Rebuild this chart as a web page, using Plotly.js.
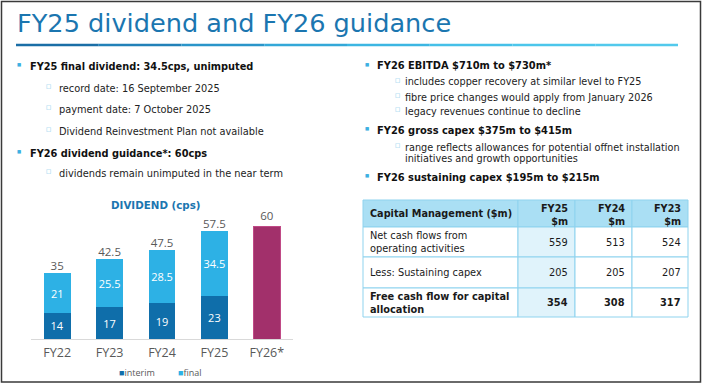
<!DOCTYPE html>
<html><head><meta charset="utf-8">
<script src="https://cdn.plot.ly/plotly-3.0.1.min.js"></script>
<style>html,body{margin:0;padding:0;background:#fff}#chart{width:703px;height:386px}</style>
</head><body><div id="chart"></div>
<script>
// ---- data ----
const categories = ['FY22','FY23','FY24','FY25','FY26*'];
const interim = [14, 17, 19, 23, null];
const finalDiv = [21, 25.5, 28.5, 34.5, null];
const totals = [35, 42.5, 47.5, 57.5];
const guidance = [null, null, null, null, 60];
const legendNames = ['interim', 'final'];

const tableHeader = ['Capital Management ($m)', 'FY25<br>$m', 'FY24<br>$m', 'FY23<br>$m'];
const rowLabels = ['Net cash flows from<br>operating activities', 'Less: Sustaining capex', 'Free cash flow for capital<br>allocation'];
const fy25 = [559, 205, 354];
const fy24 = [513, 205, 308];
const fy23 = [524, 207, 317];

const pageTitle = 'FY25 dividend and FY26 guidance';
const chartTitle = 'DIVIDEND (cps)';
const leftText = [
  ['b', 'FY25 final dividend: 34.5cps, unimputed'],
  ['s', 'record date: 16 September 2025'],
  ['s', 'payment date: 7 October 2025'],
  ['s', 'Dividend Reinvestment Plan not available'],
  ['b', 'FY26 dividend guidance*: 60cps'],
  ['s', 'dividends remain unimputed in the near term']
];
const rightText = [
  ['b', 'FY26 EBITDA $710m to $730m*'],
  ['s', 'includes copper recovery at similar level to FY25'],
  ['s', 'fibre price changes would apply from January 2026'],
  ['s', 'legacy revenues continue to decline'],
  ['b', 'FY26 gross capex $375m to $415m'],
  ['s', 'range reflects allowances for potential offnet installation'],
  ['c', 'initiatives and growth opportunities'],
  ['b', 'FY26 sustaining capex $195m to $215m']
];

// ---- helpers (pixel -> paper) ----
const W = 703, H = 386;
const X = p => p / W;
const Y = p => 1 - p / H;
const FONT = 'DejaVu Sans, Verdana, sans-serif';
const CFONT = 'Open Sans, Noto Sans, sans-serif';
const C_INT = '#0f6eaa', C_FIN = '#2db1e5', C_G = '#a2306b', C_T = '#1b76b0', C_GREY = '#595959';

const traces = [
  {type:'bar', x:categories, y:interim, name:'interim', marker:{color:C_INT},
   text:interim.map(v=>v==null?'':String(v)), textposition:'inside', insidetextanchor:'middle', textangle:0,
   constraintext:'none', textfont:{family:CFONT,size:11,color:'#ffffff'}, showlegend:false, hoverinfo:'skip'},
  {type:'bar', x:categories, y:finalDiv, name:'final', marker:{color:C_FIN},
   text:finalDiv.map(v=>v==null?'':String(v)), textposition:'inside', insidetextanchor:'middle', textangle:0,
   constraintext:'none', textfont:{family:CFONT,size:11,color:'#ffffff'}, showlegend:false, hoverinfo:'skip'},
  {type:'bar', x:categories, y:guidance, name:'FY26 guidance', marker:{color:C_G, line:{color:'#c04a86',width:1}},
   text:guidance.map(v=>v==null?'':String(v)), textposition:'outside', textangle:0, constraintext:'none', cliponaxis:false,
   textfont:{family:CFONT,size:11.5,color:C_GREY}, showlegend:false, hoverinfo:'skip'},
  {type:'scatter', mode:'text', x:categories.slice(0,4), y:totals, text:totals.map(String),
   textposition:'top center', textfont:{family:CFONT,size:11.5,color:C_GREY}, cliponaxis:false,
   showlegend:false, hoverinfo:'skip'}
];

const ann = [];
const shapes = [];
function note(text, px, py, size, color, xanchor, family, align) {
  ann.push({text:text, x:X(px), y:Y(py), xref:'paper', yref:'paper', xanchor:xanchor||'left', yanchor:'middle',
    align:align||xanchor||'left', showarrow:false, font:{family:family||FONT, size:size, color:color}});
}

note(pageTitle, 15, 23, 25.6, C_T, 'left');
note('<b>'+chartTitle+'</b>', 156, 205, 10.3, C_T, 'center');
// legend
note('<span style="color:'+C_INT+'">■</span>'+legendNames[0], 117, 372, 9, C_GREY, 'left', CFONT);
note('<span style="color:'+C_FIN+'">■</span>'+legendNames[1], 176, 372, 9, C_GREY, 'left', CFONT);

function addBullets(list, ys, bx, tx, sbx, stx, bsize, ssize) {
  list.forEach((it, i) => {
    const y = ys[i];
    if (it[0] === 'b') {
      note('■', bx, y - 2, 4.5, '#3cb0e2', 'center');
      note('<b>'+it[1]+'</b>', tx, y, bsize, '#111', 'left');
    } else {
      if (it[0] === 's') note('□', sbx, y - 2, 5.5, '#5fbde8', 'center');
      note(it[1], stx, y, ssize, '#222', 'left');
    }
  });
}
addBullets(leftText, [67, 88, 109, 131, 153, 173], 19, 28, 48, 57, 9.8, 9.8);
addBullets(rightText, [66, 82, 97, 111, 130, 147, 158, 177], 367, 375, 397, 403, 9.9, 9.7);

// ---- table (cells built from the data arrays) ----
const colEdges = [363, 518, 575, 632, 688];
const rowEdges = [200, 227, 257, 288, 317];
const cols = [rowLabels, fy25, fy24, fy23];
const LINE = '#8fd3ee';
for (let r = 0; r < 4; r++) {
  for (let c = 0; c < 4; c++) {
    const fill = r === 0 ? '#aadff4' : (c === 1 ? '#e0f3fb' : '#ffffff');
    shapes.push({type:'rect', xref:'paper', yref:'paper', layer:'below',
      x0:X(colEdges[c]), x1:X(colEdges[c+1]), y0:Y(rowEdges[r]), y1:Y(rowEdges[r+1]),
      fillcolor:fill, line:{color:LINE, width:1}});
    const cy = (rowEdges[r] + rowEdges[r+1]) / 2;
    let txt = r === 0 ? tableHeader[c] : String(cols[c][r-1]);
    const bold = r === 0 || r === 3;
    if (bold) txt = '<b>' + txt.split('<br>').join('</b><br><b>') + '</b>';
    if (c === 0) note(txt, colEdges[0] + 5, cy, r === 0 ? 9.7 : 9.8, '#1a1a1a', 'left');
    else note(txt, colEdges[c+1] - 5, cy + (r === 0 ? 1 : 0), r === 0 ? 9.7 : 9.8, '#1a1a1a', 'right');
  }
}

shapes.push({type:'rect', xref:'paper', yref:'paper', x0:X(1.5), x1:X(700.5), y0:Y(1.5), y1:Y(382), line:{color:'#3a3a3a',width:1.5}});
// gradient title underline
const gradStops = ['#1a6ea6','#2281b8','#2a95c9','#33a8d8','#3cb6e2','#45c0e8','#4cc6eb','#52c9ec'];
const ux0 = 16, ux1 = 678, nseg = gradStops.length;
gradStops.forEach((c, i) => {
  shapes.push({type:'line', xref:'paper', yref:'paper', x0:X(ux0 + (ux1-ux0)*i/nseg), x1:X(ux0 + (ux1-ux0)*(i+1)/nseg), y0:Y(45), y1:Y(45), line:{color:c,width:2.5}});
});

const layout = {
  width: W, height: H, margin:{l:0,r:0,t:0,b:0}, paper_bgcolor:'#ffffff', plot_bgcolor:'rgba(0,0,0,0)',
  barmode:'stack', bargap:0.49, showlegend:false,
  xaxis:{domain:[X(31), X(293)], showline:true, linecolor:'#d9d9d9', linewidth:1, ticks:'', showgrid:false, zeroline:false,
    tickfont:{family:CFONT,size:12.5,color:C_GREY}, ticklabelstandoff:2, fixedrange:true},
  yaxis:{domain:[Y(339), Y(215)], range:[0, 66.13], showticklabels:false, showgrid:false, zeroline:false, fixedrange:true},
  annotations: ann, shapes: shapes
};
Plotly.newPlot('chart', traces, layout, {displayModeBar:false, staticPlot:true});
</script></body></html>
